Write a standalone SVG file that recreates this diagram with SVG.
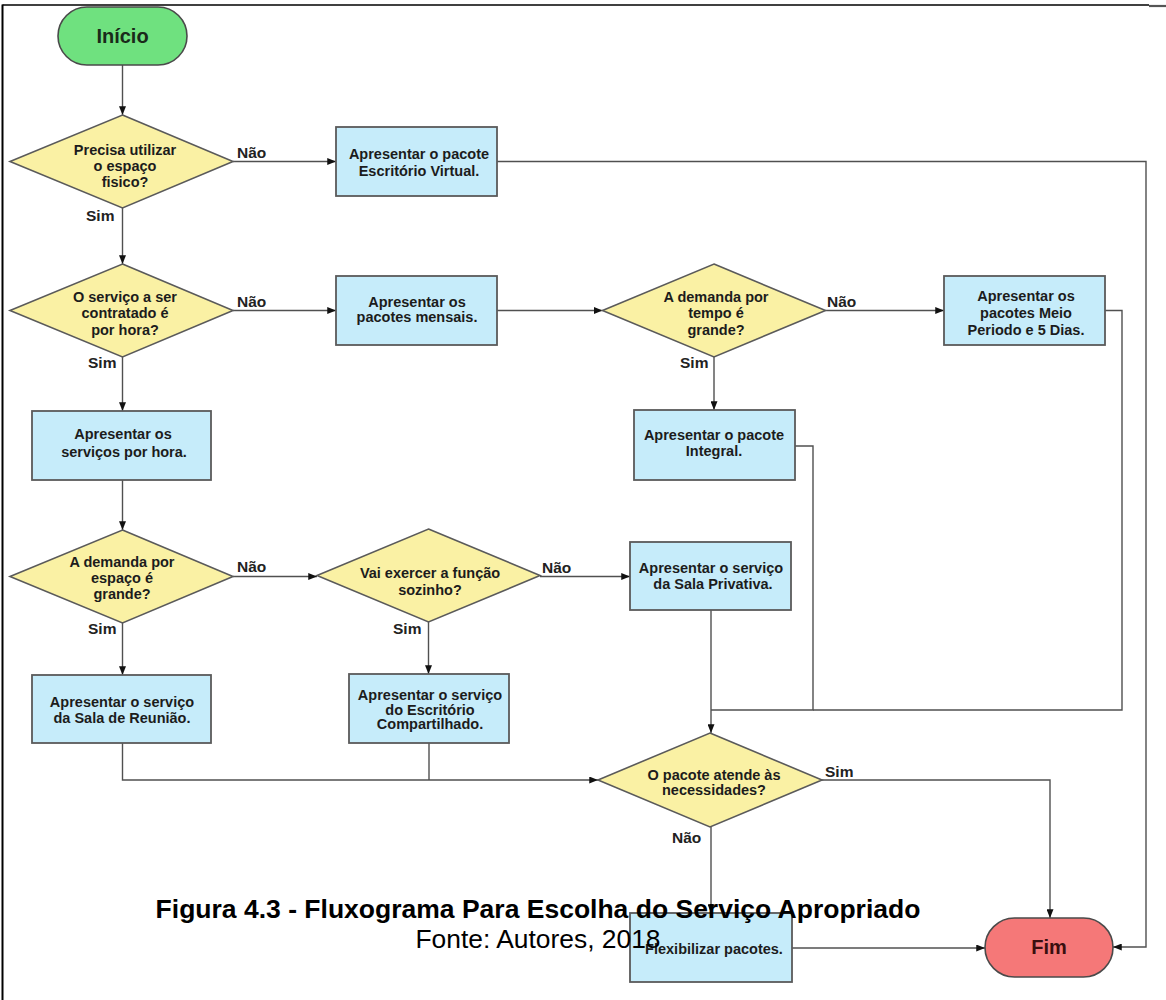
<svg xmlns="http://www.w3.org/2000/svg" width="1166" height="1000" viewBox="0 0 1166 1000">
<style>
text{font-family:"Liberation Sans",Arial,sans-serif;}
.t{font-size:14.5px;font-weight:bold;fill:#1c1c1c;text-anchor:middle;}
.lb{font-size:15.5px;font-weight:bold;fill:#222;}
.dec{fill:#faf1a4;stroke:#5a5a5a;stroke-width:1.6;}
.box{fill:#c6ecfa;stroke:#5a5a5a;stroke-width:1.8;}
.term{stroke:#4a4a4a;stroke-width:1.6;}
.c{fill:none;stroke:#505050;stroke-width:1.4;}
.ca{fill:none;stroke:#505050;stroke-width:1.4;marker-end:url(#ah);}
</style>
<defs>
<marker id="ah" viewBox="0 0 10 8" refX="10" refY="4" markerWidth="9" markerHeight="7" markerUnits="userSpaceOnUse" orient="auto"><path d="M0,0 L10,4 L0,8 z" fill="#111"/></marker>
</defs>
<rect width="1166" height="1000" fill="#fff"/>
<g id="frame">
<line x1="2.5" y1="5" x2="1149" y2="5" stroke="#000" stroke-width="1.5"/>
<line x1="1149" y1="6" x2="1166" y2="6" stroke="#555" stroke-width="2.2"/>
<line x1="2.5" y1="4.5" x2="2.5" y2="1000" stroke="#000" stroke-width="2"/>
</g>
<g id="connectors">
<path class="ca" d="M122.5,65 V115"/>
<path class="ca" d="M233,161.5 H336"/>
<path class="ca" d="M497,161.5 H1146 V947 H1113"/>
<path class="ca" d="M122.5,208 V264"/>
<path class="ca" d="M233,310.5 H336"/>
<path class="ca" d="M497,310.5 H602.5"/>
<path class="ca" d="M825.5,310.5 H944"/>
<path class="ca" d="M714,357 V410"/>
<path class="ca" d="M122.5,357 V411"/>
<path class="ca" d="M122.5,480 V530"/>
<path class="ca" d="M233,576.5 H317"/>
<path class="ca" d="M540,576.5 H630"/>
<path class="ca" d="M122.5,623 V675"/>
<path class="ca" d="M428.5,622 V674"/>
<path class="ca" d="M711,610 V733"/>
<path class="c" d="M795,446 H813 V710 H711"/>
<path class="c" d="M1105,310.5 H1122 V710 H813"/>
<path class="ca" d="M122.5,743 V780 H598"/>
<path class="c" d="M429,743 V780"/>
<path class="ca" d="M822,780 H1050 V918"/>
<path class="ca" d="M711,827 V913"/>
<path class="ca" d="M792,948 H985"/>
</g>
<g id="labels">
<text class="lb" x="237" y="158">Não</text>
<text class="lb" x="86" y="221">Sim</text>
<text class="lb" x="237" y="307">Não</text>
<text class="lb" x="88" y="368">Sim</text>
<text class="lb" x="827" y="307">Não</text>
<text class="lb" x="680" y="368">Sim</text>
<text class="lb" x="237" y="572">Não</text>
<text class="lb" x="88" y="634">Sim</text>
<text class="lb" x="542" y="573">Não</text>
<text class="lb" x="393" y="634">Sim</text>
<text class="lb" x="825" y="777">Sim</text>
<text class="lb" x="672" y="843">Não</text>
</g>
<g id="inicio">
<rect class="term" x="58" y="7" width="129" height="58" rx="29" fill="#6fe17f"/>
<text x="122.5" y="43" font-size="20" font-weight="bold" fill="#1a2a1a" text-anchor="middle">Início</text>
</g>
<g id="d1">
<polygon class="dec" points="122.5,115 233,161.5 122.5,208 10,161.5"/>
<text class="t" x="125" y="155">Precisa utilizar</text>
<text class="t" x="125" y="171">o espaço</text>
<text class="t" x="125" y="187">fisico?</text>
</g>
<g id="b_virtual">
<rect class="box" x="336" y="127" width="161" height="69"/>
<text class="t" x="419" y="158.5">Apresentar o pacote</text>
<text class="t" x="419" y="175.5">Escritório Virtual.</text>
</g>
<g id="d2">
<polygon class="dec" points="122.5,264 233,310.5 122.5,357 10,310.5"/>
<text class="t" x="125" y="302">O serviço a ser</text>
<text class="t" x="125" y="318">contratado é</text>
<text class="t" x="125" y="335">por hora?</text>
</g>
<g id="b_mensais">
<rect class="box" x="336" y="276" width="161" height="69"/>
<text class="t" x="417" y="306.5">Apresentar os</text>
<text class="t" x="417" y="322">pacotes mensais.</text>
</g>
<g id="d_tempo">
<polygon class="dec" points="714,264 825.5,310.5 714,357 602.5,310.5"/>
<text class="t" x="716" y="302">A demanda por</text>
<text class="t" x="716" y="318">tempo é</text>
<text class="t" x="716" y="335">grande?</text>
</g>
<g id="b_meio">
<rect class="box" x="944" y="276" width="161" height="69"/>
<text class="t" x="1026" y="301">Apresentar os</text>
<text class="t" x="1026" y="318">pacotes Meio</text>
<text class="t" x="1026" y="335">Periodo e 5 Dias.</text>
</g>
<g id="b_integral">
<rect class="box" x="634" y="410" width="161" height="70"/>
<text class="t" x="714" y="440">Apresentar o pacote</text>
<text class="t" x="714" y="456">Integral.</text>
</g>
<g id="b_hora">
<rect class="box" x="32" y="411" width="179" height="69"/>
<text class="t" x="123" y="439">Apresentar os</text>
<text class="t" x="124" y="457">serviços por hora.</text>
</g>
<g id="d3">
<polygon class="dec" points="122.5,530 233,576.5 122.5,623 10,576.5"/>
<text class="t" x="122" y="567">A demanda por</text>
<text class="t" x="122" y="583">espaço é</text>
<text class="t" x="122" y="599">grande?</text>
</g>
<g id="d4">
<polygon class="dec" points="428.5,529 540,575.5 428.5,622 317,575.5"/>
<text class="t" x="430" y="578">Vai exercer a função</text>
<text class="t" x="430" y="595">sozinho?</text>
</g>
<g id="b_privativa">
<rect class="box" x="630" y="542" width="161" height="68"/>
<text class="t" x="711" y="573">Apresentar o serviço</text>
<text class="t" x="713" y="589">da Sala Privativa.</text>
</g>
<g id="b_reuniao">
<rect class="box" x="32" y="675" width="179" height="68"/>
<text class="t" x="122" y="707">Apresentar o serviço</text>
<text class="t" x="122" y="723">da Sala de Reunião.</text>
</g>
<g id="b_compartilhado">
<rect class="box" x="349" y="674" width="160" height="69"/>
<text class="t" x="430" y="700">Apresentar o serviço</text>
<text class="t" x="430" y="714.5">do Escritório</text>
<text class="t" x="430" y="729">Compartilhado.</text>
</g>
<g id="d5">
<polygon class="dec" points="710,733 822,780 710,827 598,780"/>
<text class="t" x="714" y="780">O pacote atende às</text>
<text class="t" x="714" y="795">necessidades?</text>
</g>
<g id="b_flex">
<rect class="box" x="630" y="913" width="162" height="69"/>
<text class="t" x="714" y="954">Flexibilizar pacotes.</text>
</g>
<g id="fim">
<rect class="term" x="985" y="918" width="128" height="59" rx="29.5" fill="#f57878"/>
<text x="1049" y="954" font-size="20" font-weight="bold" fill="#3a0f0f" text-anchor="middle">Fim</text>
</g>
<g id="caption">
<text x="538" y="918" font-size="26.5" font-weight="bold" fill="#000" text-anchor="middle">Figura 4.3 - Fluxograma Para Escolha do Serviço Apropriado</text>
<text x="538" y="948" font-size="26.4" fill="#000" text-anchor="middle">Fonte: Autores, 2018</text>
</g>
</svg>
